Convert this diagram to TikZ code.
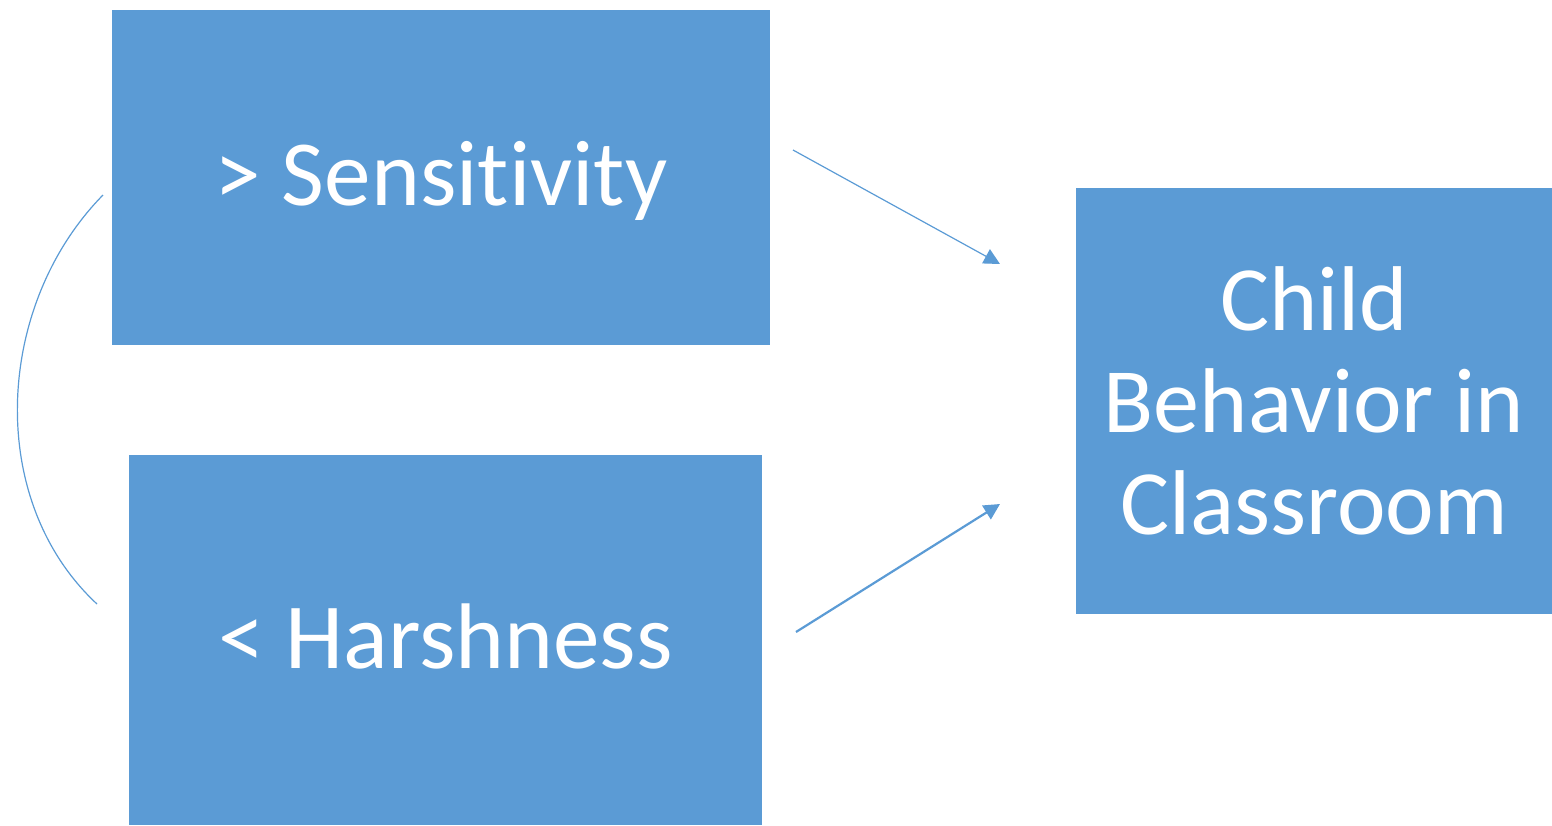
\documentclass[tikz,border=0pt]{standalone}
\usepackage{fontspec}
\setmainfont[Ligatures=NoCommon]{Carlito}
\usetikzlibrary{arrows.meta}
\definecolor{boxblue}{HTML}{5B9BD5}
\tikzset{
  box/.style={fill=boxblue, draw=none, inner sep=0pt, text=white, align=center, font=\fontsize{46}{51}\selectfont},
  bigbox/.style={box, font=\fontsize{46.6}{51}\selectfont},
  link/.style={draw=boxblue, -{Triangle[length=8pt,width=8pt]}},
  curvelink/.style={draw=boxblue, line width=0.6pt}
}
\begin{document}
\begin{tikzpicture}[x=0.5pt,y=-0.5pt]
\useasboundingbox (0,0) rectangle (1552,825);
\node[bigbox, minimum width=329pt, minimum height=167.5pt, text height=36pt, text depth=8.5pt] (sens) at (441,177.5) {> Sensitivity};
\node[bigbox, minimum width=316.5pt, minimum height=185pt, text height=36pt, text depth=8pt] (harsh) at (445.5,640) {< Harshness};
\node[box, minimum width=238pt, minimum height=213pt] (child) at (1314,401) {Child\\Behavior in\\Classroom};
\coordinate (a1s) at (793,150);
\coordinate (a1e) at (1000,264);
\coordinate (a2s) at (796,632);
\coordinate (a2e) at (1000,504);
\coordinate (cs) at (103,195);
\coordinate (ce) at (97,604);
\draw[link, line width=0.6pt] (a1s) -- (a1e);
\draw[link, line width=1.1pt] (a2s) -- (a2e);
\draw[curvelink] (cs) .. controls (-5,305) and (-15,500) .. (ce);
\end{tikzpicture}
\end{document}
